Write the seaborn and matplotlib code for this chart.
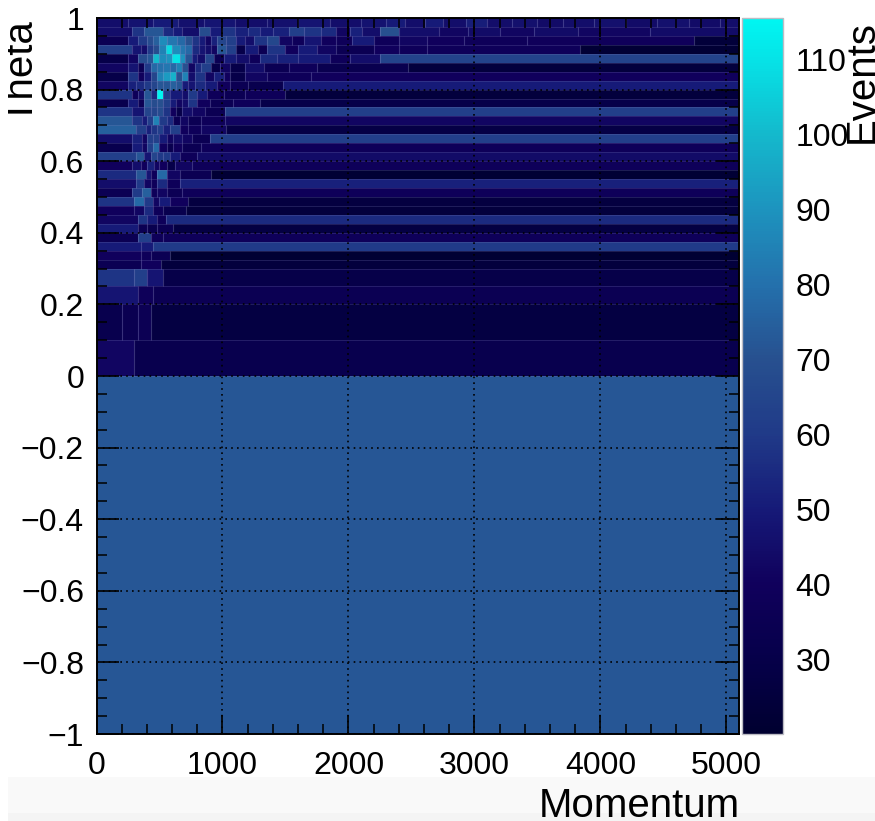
import numpy as np
import matplotlib.pyplot as plt
import seaborn as sns
from matplotlib.colors import LinearSegmentedColormap
from matplotlib.patches import Rectangle

# Adaptive bins: theta edges from the top down, one list of momentum edges per row
theta_edges = [1, 0.975, 0.95, 0.925, 0.9, 0.875, 0.85, 0.825, 0.8, 0.775, 0.75,
               0.725, 0.7, 0.675, 0.65, 0.625, 0.6, 0.575, 0.55, 0.525, 0.5,
               0.475, 0.45, 0.425, 0.4, 0.375, 0.35, 0.325, 0.3, 0.25, 0.2, 0.1, 0, -1]

row_edges = [
    [0, 250, 450, 650, 850, 1100, 1350, 1600, 1850, 2100, 2300, 2450, 2610, 2750, 2930, 3100, 3300, 3500, 3700, 3950, 4200, 4450, 4700, 4950],
    [0, 280, 380, 530, 610, 680, 810, 900, 1000, 1100, 1200, 1300, 1400, 1530, 1650, 1780, 1900, 2010, 2110, 2250, 2400, 2720, 2950, 3200, 3470, 3820, 4390],
    [0, 250, 330, 400, 450, 500, 560, 640, 700, 760, 810, 860, 910, 960, 1030, 1110, 1180, 1250, 1350, 1450, 1550, 1650, 1780, 1900, 2030, 2200, 2400, 2620, 2920, 3420, 4740],
    [0, 280, 350, 400, 450, 500, 550, 600, 660, 700, 760, 810, 860, 910, 960, 1030, 1110, 1180, 1280, 1350, 1500, 1600, 1750, 1900, 2200, 2400, 2620, 3840],
    [0, 250, 330, 400, 450, 500, 550, 600, 660, 700, 760, 800, 860, 930, 1010, 1110, 1210, 1300, 1430, 1600, 1850, 2010, 2250],
    [0, 250, 330, 380, 430, 480, 530, 580, 630, 680, 730, 780, 830, 910, 980, 1060, 1180, 1330, 1530, 1750, 2470],
    [0, 250, 330, 380, 430, 480, 530, 580, 630, 680, 730, 780, 860, 930, 1010, 1060, 1180, 1350, 1700],
    [0, 250, 310, 380, 430, 480, 530, 580, 630, 680, 730, 780, 860, 960, 1060, 1200, 1480],
    [0, 280, 330, 380, 430, 480, 530, 580, 680, 730, 800, 880, 1010, 1180, 1500],
    [0, 250, 330, 380, 430, 480, 530, 580, 630, 680, 730, 800, 900, 1080, 1300],
    [0, 280, 380, 430, 480, 530, 580, 630, 680, 760, 860, 1020],
    [0, 280, 360, 400, 450, 500, 560, 610, 660, 730, 830, 1020],
    [0, 310, 390, 430, 480, 530, 580, 660, 730, 830, 1030],
    [0, 280, 360, 400, 450, 500, 560, 610, 680, 760, 900],
    [0, 280, 360, 400, 450, 500, 560, 610, 680, 830],
    [0, 310, 380, 430, 480, 530, 580, 660, 800],
    [0, 280, 350, 400, 460, 500, 560, 620, 760],
    [0, 310, 390, 430, 480, 560, 660, 910],
    [0, 310, 380, 430, 480, 560, 660],
    [0, 280, 360, 430, 480, 560, 680],
    [0, 300, 380, 450, 500, 580, 730],
    [0, 300, 380, 450, 530, 710],
    [0, 330, 400, 480, 550],
    [0, 330, 400, 480, 610],
    [0, 330, 430, 530],
    [0, 350, 450],
    [0, 350, 430, 580],
    [0, 350, 510],
    [0, 300, 400, 530],
    [0, 330, 450],
    [0, 200, 330, 430],
    [0, 300],
    [0],
]

row_counts = [
    [45, 47, 50, 46, 48, 45, 46, 48, 45, 47, 50, 45, 50, 45, 51, 45, 46, 44, 45, 46, 44, 46, 44, 45],
    [45, 58, 72, 55, 50, 45, 68, 50, 58, 52, 55, 50, 52, 62, 58, 55, 42, 52, 45, 70, 45, 42, 44, 42, 44, 42, 44],
    [35, 50, 60, 68, 75, 88, 82, 78, 70, 58, 50, 42, 52, 65, 62, 50, 45, 58, 66, 42, 38, 48, 40, 38, 50, 38, 42, 40, 38, 39, 24],
    [62, 48, 45, 60, 68, 85, 108, 88, 82, 78, 55, 48, 45, 42, 72, 62, 30, 50, 35, 58, 40, 50, 42, 35, 40, 38, 38, 22],
    [30, 42, 68, 72, 100, 88, 90, 110, 90, 72, 50, 45, 65, 35, 50, 45, 38, 55, 52, 50, 38, 45, 64],
    [42, 48, 35, 60, 78, 80, 82, 78, 85, 70, 42, 55, 62, 30, 42, 30, 45, 35, 38, 33, 25],
    [30, 58, 40, 50, 65, 85, 92, 98, 70, 85, 45, 58, 42, 52, 40, 30, 42, 38, 40],
    [42, 52, 55, 60, 65, 72, 72, 75, 72, 50, 48, 55, 50, 40, 35, 32, 50],
    [58, 38, 45, 72, 55, 115, 60, 50, 45, 60, 50, 38, 35, 38, 25],
    [32, 50, 35, 72, 68, 70, 62, 50, 42, 45, 58, 40, 35, 38, 30],
    [58, 48, 65, 65, 68, 58, 40, 30, 45, 42, 35, 62],
    [72, 58, 50, 62, 85, 60, 55, 35, 42, 35, 38, 42],
    [75, 62, 52, 58, 62, 52, 62, 40, 38, 42, 28],
    [45, 52, 42, 62, 62, 50, 42, 45, 42, 35, 62],
    [32, 50, 42, 62, 78, 40, 33, 40, 35, 38],
    [62, 72, 48, 65, 60, 60, 50, 38, 44],
    [40, 45, 40, 52, 42, 40, 30, 42, 38],
    [55, 72, 48, 38, 78, 42, 35, 22],
    [45, 60, 42, 38, 55, 38, 52],
    [35, 60, 75, 38, 42, 36, 38],
    [58, 78, 60, 42, 50, 40, 26],
    [40, 42, 55, 38, 32, 25],
    [42, 58, 50, 38, 55],
    [50, 35, 33, 35, 27],
    [35, 62, 38, 38],
    [50, 50, 60],
    [40, 38, 35, 21],
    [35, 40, 25],
    [58, 62, 48, 30],
    [48, 38, 35],
    [32, 34, 36, 27],
    [42, 32],
    [72],
]

x_major = [0, 1000, 2000, 3000, 4000, 5000]
y_major = [-1, -0.8, -0.6, -0.4, -0.2, 0, 0.2, 0.4, 0.6, 0.8, 1]
y_labels = ['\u22121', '\u22120.8', '\u22120.6', '\u22120.4', '\u22120.2', '0', '0.2', '0.4', '0.6', '0.8', '1']
cbar_ticks = [30, 40, 50, 60, 70, 80, 90, 100, 110]

cmap_stops = [(20, '#000030'), (30, '#06004a'), (40, '#10005c'), (50, '#161a78'),
              (60, '#203a88'), (70, '#27508f'), (80, '#2470ac'), (90, '#1d93be'),
              (100, '#14b8cc'), (110, '#06e2e6'), (115.6, '#00f6f2')]

x_step, y_step, x_max = 10, 0.025, 5100

def xp(m):
    return np.asarray(m) / x_step

def yp(t):
    return (np.asarray(t) + 1) / y_step

# Expand the rows on a regular grid so sns.heatmap can draw them
grid = np.zeros((round(2 / y_step), round(x_max / x_step)))
for i, (edges, counts) in enumerate(zip(row_edges, row_counts)):
    lo, hi = round(yp(theta_edges[i + 1])), round(yp(theta_edges[i]))
    ends = edges + [x_max]
    for j, c in enumerate(counts):
        grid[lo:hi, round(xp(ends[j])):round(xp(ends[j + 1]))] = c

sns.set_theme(style='ticks')
plt.rcParams['font.family'] = ['Liberation Sans', 'DejaVu Sans']

W, H = 875, 821
fig = plt.figure(figsize=(W / 100, H / 100), dpi=100, facecolor='white')
ax = fig.add_axes([96.5 / W, 1 - 734 / H, 642.5 / W, 716 / H])
cax = fig.add_axes([742 / W, 1 - 734 / H, 41 / W, 716 / H])

vmin, vmax = cmap_stops[0][0], cmap_stops[-1][0]
deep = LinearSegmentedColormap.from_list(
    'deep', [((v - vmin) / (vmax - vmin), c) for v, c in cmap_stops], N=255)

sns.heatmap(grid, ax=ax, cmap=deep, vmin=vmin, vmax=vmax, cbar_ax=cax,
            xticklabels=False, yticklabels=False,
            cbar_kws={'ticks': cbar_ticks})
ax.set_xlim(0, xp(x_max))
ax.set_ylim(0, yp(1))

# Faint lines around the cells
for i, edges in enumerate(row_edges[:-1]):
    lo, hi = yp(theta_edges[i + 1]), yp(theta_edges[i])
    ax.vlines(xp(edges[1:]), lo, hi, color='#8f8fc8', lw=0.8, alpha=0.35, zorder=2)
    ax.hlines(lo, 0, xp(x_max), color='#7a7ab8', lw=0.7, alpha=0.25, zorder=2)

ax.set_xticks(xp(x_major), [str(v) for v in x_major])
ax.set_yticks(yp(y_major), y_labels)
ax.set_xticks(xp([v for v in range(0, x_max + 1, 200) if v % 1000]), minor=True)
ax.set_yticks(yp([v / 20 for v in range(-20, 21) if v % 4]), minor=True)
ax.tick_params(axis='x', which='major', direction='in', top=True, bottom=True,
               length=14, width=1.2, color='black', labelsize=23, pad=12,
               labelcolor='black')
ax.tick_params(axis='y', which='major', direction='in', left=True, right=True,
               length=16, width=1.2, color='black', labelsize=23, pad=9,
               labelcolor='black')
ax.tick_params(which='minor', direction='in', top=True, bottom=True, left=True,
               right=True, length=7, width=1.1, color='black')
ax.set_axisbelow(False)
ax.grid(True, which='major', color='black', lw=1.2, ls=(0, (1, 2.5)))
for s in ax.spines.values():
    s.set_visible(True)
    s.set_color('black')
    s.set_linewidth(1.4)

ax.set_xlabel('Momentum', fontsize=29, color='black', ha='right', va='baseline')
ax.xaxis.set_label_coords(1.0016, -0.116)
ax.set_ylabel('Theta', fontsize=29, color='black', ha='right', va='baseline',
              rotation_mode='anchor')
ax.yaxis.set_label_coords(-0.1004, 0.997)

cax.tick_params(direction='in', length=15, width=1.2, color='#10204a', labelsize=23,
                pad=9, labelcolor='black', right=True, left=False, which='major')
cax.minorticks_off()
cbar = ax.collections[0].colorbar
cbar.outline.set_edgecolor('#bcbcc4')
cbar.outline.set_linewidth(1)
cax.set_ylabel('Events', fontsize=29, color='black', ha='right', va='baseline',
               rotation_mode='anchor')
cax.yaxis.set_label_coords(3.2, 0.997)

# Grey strip under the chart, and the white edge that cuts the T of Theta
fig.add_artist(Rectangle((8 / W, 1 - 813 / H), 1, 36 / H, transform=fig.transFigure,
                         color='#f9f9f9', lw=0, zorder=-2))
fig.add_artist(Rectangle((8 / W, 0), 1, 8 / H, transform=fig.transFigure,
                         color='#f4f4f4', lw=0, zorder=-2))
fig.add_artist(Rectangle((0, 0.8), 8 / W, 0.2, transform=fig.transFigure,
                         color='white', lw=0, zorder=10))

fig.savefig('out.png', dpi=100)
